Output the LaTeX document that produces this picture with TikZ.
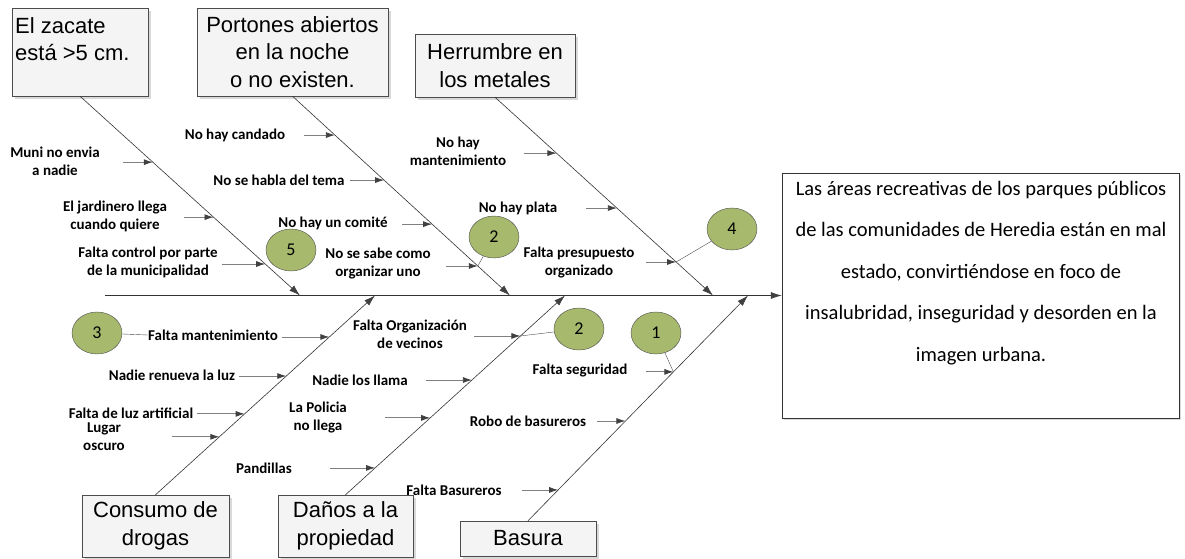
\documentclass[tikz,border=0pt]{standalone}
\usepackage{fontspec}
\setmainfont{Carlito}
\newfontfamily\headfont{Liberation Sans}
\usetikzlibrary{arrows.meta,calc,shapes.geometric,shadows}
\definecolor{Bone_Gray}{HTML}{808080}
\definecolor{Tip_Dark}{HTML}{404040}
\definecolor{Box_Fill}{HTML}{F4F4F4}
\definecolor{Num_Green}{HTML}{A6B96C}

\begin{document}
\begin{tikzpicture}[x=1pt, y=-1pt,
    cause/.style={draw=black!70, fill=Box_Fill, inner sep=0pt, align=center,
      drop shadow={shadow xshift=3pt, shadow yshift=-3pt, fill=gray!30, opacity=1},
      font=\headfont\fontsize{22}{27.5}\selectfont},
    lbl/.style={inner sep=0pt, align=center, font=\bfseries\fontsize{15}{18}\selectfont},
    sub/.style={draw=Bone_Gray, line width=0.8pt, -{Latex[length=9pt, width=6pt, color=Tip_Dark]}},
    bone/.style={draw=black!80, line width=0.6pt, -{Latex[length=11pt, width=7pt, color=Tip_Dark]}},
    num/.style={ellipse, draw=black!70, fill=Num_Green, minimum width=50pt, minimum height=42pt,
      inner sep=0pt, font=\fontsize{18}{20}\selectfont}]
    \useasboundingbox (0,0) rectangle (1185,559);

    % Effect box
    \node[draw=black!80, fill=white, minimum width=397pt, minimum height=245pt, inner sep=0pt,
      drop shadow={shadow xshift=2pt, shadow yshift=-2pt, fill=gray!30, opacity=1}] (eff) at (980.5,295.5) {};
    \node[inner sep=0pt, align=center, font=\fontsize{20.5}{41.5}\selectfont] (efftxt) at (981,273)
      {Las áreas recreativas de los parques públicos\\de las comunidades de Heredia están en mal\\
       estado, convirtiéndose en foco de\\insalubridad, inseguridad y desorden en la\\imagen urbana.};

    % Spine
    \coordinate (tail) at (105,295.5);
    \draw[bone] (tail) -- (eff.west);

    % Cause boxes
    \node[cause, minimum width=136pt, minimum height=88pt] (zac) at (80,52) {};
    \node[inner sep=0pt, align=left, anchor=west, font=\headfont\fontsize{22}{27.5}\selectfont] (zactxt) at (15,39) {El zacate\\está >5 cm.};
    \node[cause, minimum width=191pt, minimum height=88pt] (por) at (292.5,52) {Portones abiertos\\en la noche\\o no existen.};
    \node[cause, minimum width=160pt, minimum height=63pt] (her) at (495,65.5) {Herrumbre en\\los metales};
    \node[cause, minimum width=147pt, minimum height=62pt] (con) at (155.5,526) {Consumo de\\drogas};
    \node[cause, minimum width=135pt, minimum height=62pt] (dan) at (345.5,526) {Daños a la\\propiedad};
    \node[cause, minimum width=136pt, minimum height=35pt] (bas) at (528,538.5) {Basura};

    % Bones
    \coordinate (sA) at (300,295.5);
    \coordinate (sB) at (510,295.5);
    \coordinate (sC) at (713,295.5);
    \coordinate (sD) at (375,295.5);
    \coordinate (sE) at (565,295.5);
    \coordinate (sF) at (748,295.5);
    \draw[bone] (zac.south) -- (sA);
    \draw[bone] (por.south) -- (sB);
    \draw[bone] (her.south) -- (sC);
    \draw[bone] (con.north) -- (sD);
    \draw[bone] (dan.north) -- (sE);
    \draw[bone] (bas.north) -- (sF);

    % El zacate
    \coordinate (a1) at ($(zac.south)!0.331!(sA)$);
    \coordinate (a2) at ($(zac.south)!0.607!(sA)$);
    \coordinate (a3) at ($(zac.south)!0.842!(sA)$);
    \draw[sub] ($(a1)+(-30,0)$) -- (a1);
    \draw[sub] ($(a2)+(-30,0)$) -- (a2);
    \draw[sub] ($(a3)+(-43,0)$) -- (a3);
    \node[lbl] (muni) at (55,161.5) {Muni no envia\\a nadie};
    \node[lbl] (jard) at (115,216) {El jardinero llega\\cuando quiere};
    \node[lbl] (ctrl) at (148,262.5) {Falta control por parte\\de la municipalidad};

    % Portones
    \coordinate (b1) at ($(por.south)!0.195!(sB)$);
    \coordinate (b2) at ($(por.south)!0.421!(sB)$);
    \coordinate (b3) at ($(por.south)!0.642!(sB)$);
    \coordinate (b4) at ($(por.south)!0.852!(sB)$);
    \draw[sub] ($(b1)+(-31,0)$) -- (b1);
    \draw[sub] ($(b2)+(-34,0)$) -- (b2);
    \draw[sub] ($(b3)+(-30,0)$) -- (b3);
    \draw[sub] ($(b4)+(-32,0)$) -- (b4);
    \node[lbl] (cand) at (235,135) {No hay candado};
    \node[lbl] (habla) at (279,180) {No se habla del tema};
    \node[lbl] (comite) at (333,223) {No hay un comité};
    \node[lbl] (sabe) at (378,263.5) {No se sabe como\\organizar uno};

    % Herrumbre
    \coordinate (c1) at ($(her.south)!0.282!(sC)$);
    \coordinate (c2) at ($(her.south)!0.559!(sC)$);
    \coordinate (c3) at ($(her.south)!0.831!(sC)$);
    \draw[sub] ($(c1)+(-32,0)$) -- (c1);
    \draw[sub] ($(c2)+(-31,0)$) -- (c2);
    \draw[sub] ($(c3)+(-30,0)$) -- (c3);
    \node[lbl] (mant) at (458,151) {No hay\\mantenimiento};
    \node[lbl] (plata) at (518,208) {No hay plata};
    \node[lbl] (presu) at (579,263) {Falta presupuesto\\organizado};

    % Consumo de drogas
    \coordinate (d1) at ($(con.north)!0.792!(sD)$);
    \coordinate (d2) at ($(con.north)!0.596!(sD)$);
    \coordinate (d3) at ($(con.north)!0.406!(sD)$);
    \coordinate (d4) at ($(con.north)!0.291!(sD)$);
    \draw[sub] ($(d1)+(-47,0)$) -- (d1);
    \draw[sub] ($(d2)+(-47,0)$) -- (d2);
    \draw[sub] ($(d3)+(-48,0)$) -- (d3);
    \draw[sub] ($(d4)+(-47,0)$) -- (d4);
    \node[lbl] (fmant) at (213,335) {Falta mantenimiento};
    \node[lbl] (renu) at (172,375) {Nadie renueva la luz};
    \node[lbl] (fluz) at (131,413) {Falta de luz artificial};
    \node[lbl] (lugar) at (104,437) {Lugar\\oscuro};

    % Danos a la propiedad
    \coordinate (e1) at ($(dan.north)!0.797!(sE)$);
    \coordinate (e2) at ($(dan.north)!0.576!(sE)$);
    \coordinate (e3) at ($(dan.north)!0.386!(sE)$);
    \coordinate (e4) at ($(dan.north)!0.135!(sE)$);
    \draw[sub] ($(e1)+(-46,0)$) -- (e1);
    \draw[sub] ($(e2)+(-46,0)$) -- (e2);
    \draw[sub] ($(e3)+(-45,0)$) -- (e3);
    \draw[sub] ($(e4)+(-45,0)$) -- (e4);
    \node[lbl] (org) at (410,334.5) {Falta Organización\\de vecinos};
    \node[lbl] (llama) at (360,380) {Nadie los llama};
    \node[lbl] (poli) at (318,418) {La Policia\\no llega};
    \node[lbl] (pand) at (264,468) {Pandillas};

    % Basura
    \coordinate (f1) at ($(bas.north)!0.661!(sF)$);
    \coordinate (f2) at ($(bas.north)!0.443!(sF)$);
    \coordinate (f3) at ($(bas.north)!0.137!(sF)$);
    \draw[sub] ($(f1)+(-27,0)$) -- (f1);
    \draw[sub] ($(f2)+(-28,0)$) -- (f2);
    \draw[sub] ($(f3)+(-36,0)$) -- (f3);
    \node[lbl] (segu) at (580,371) {Falta seguridad};
    \node[lbl] (robo) at (528,421) {Robo de basureros};
    \node[lbl] (fbas) at (454,490) {Falta Basureros};

    % Numbered marks
    \node[num] (n5) at (291,250) {5};
    \node[num] (n2a) at (494,237) {2};
    \node[num] (n4) at (732,229) {4};
    \node[num] (n3) at (97,333) {3};
    \node[num] (n2b) at (579,329) {2};
    \node[num] (n1) at (656,333) {1};
    \draw[black!70] (b4) -- (n2a);
    \draw[black!70] (c3) -- (n4);
    \draw[black!70] (n3) -- (fmant.west);
    \draw[black!70] (e1) -- (n2b);
    \draw[black!70] (f1) -- (n1);
\end{tikzpicture}
\end{document}
